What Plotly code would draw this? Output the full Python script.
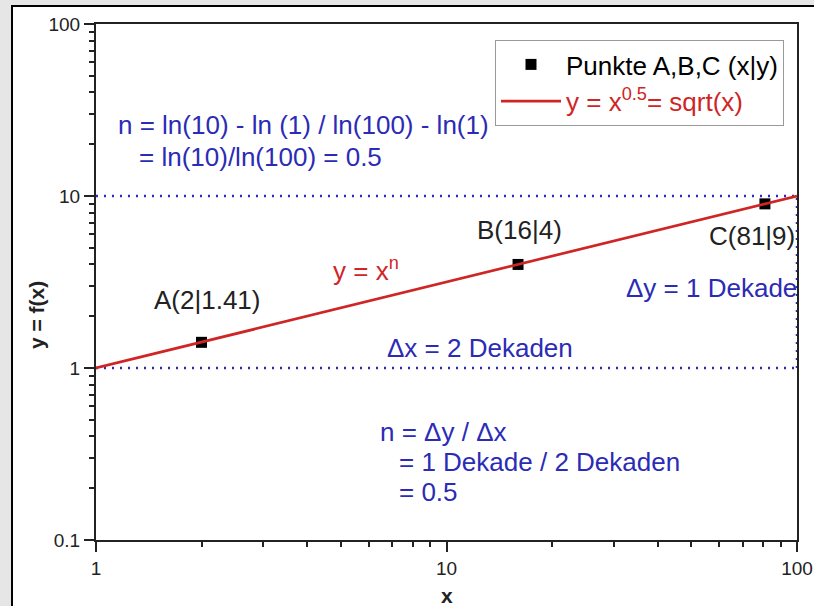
import plotly.graph_objects as go

# ---- data ----
point_x = [2, 16, 81]
point_y = [1.41, 4, 9]
point_labels = ["A(2|1.41)", "B(16|4)", "C(81|9)"]
line_x = [1, 100]
line_y = [1, 10]
ref_y = [1, 10]          # decade guide lines
x_tickvals = [1, 10, 100]
x_ticktext = ["1", "10", "100"]
y_tickvals = [0.1, 1, 10, 100]
y_ticktext = ["0.1", "1", "10", "100"]

BLUE = "#2b2bb5"
RED = "#d02525"
INK = "#222222"
FONT = "Liberation Sans, Arial, sans-serif"

L, T, R, B = 96, 24, 17, 66
W, H = 814 - L - R, 606 - T - B


def px(x):
    return (x - L) / W


def py(y):
    return 1 - (y - T) / H


fig = go.Figure()

# dotted decade guides
for yv in ref_y:
    fig.add_trace(go.Scatter(x=line_x, y=[yv, yv], mode="lines",
                             line=dict(color=BLUE, width=2.5, dash="2px,6px"),
                             showlegend=False, hoverinfo="skip"))
fig.add_trace(go.Scatter(x=[line_x[1], line_x[1]], y=ref_y, mode="lines",
                         line=dict(color=BLUE, width=2.5, dash="2px,6px"),
                         showlegend=False, hoverinfo="skip", cliponaxis=False))

fig.add_trace(go.Scatter(x=point_x, y=point_y, mode="markers",
                         marker=dict(symbol="square", size=11, color="black"),
                         name="Punkte A,B,C (x|y)"))
fig.add_trace(go.Scatter(x=line_x, y=line_y, mode="lines",
                         line=dict(color=RED, width=2.7),
                         name=f"<span style='color:{RED}'>y = x<sup>0.5</sup>= sqrt(x)</span>"))

# outer frame
fig.add_shape(type="rect", xref="paper", yref="paper",
              x0=px(12), y0=py(6), x1=px(900), y1=py(700),
              line=dict(color="black", width=2), fillcolor="white", layer="below")

ann = []


def add(text, x, y, color, xanchor="left", size=26):
    ann.append(dict(text=text, x=px(x), y=py(y), xref="paper", yref="paper",
                    xanchor=xanchor, yanchor="middle", showarrow=False,
                    font=dict(family=FONT, size=size, color=color)))


add("n = ln(10) - ln (1) / ln(100) - ln(1)", 116, 125, BLUE)
add("= ln(10)/ln(100) = 0.5", 137, 157, BLUE)
add(point_labels[0], 152, 300, INK)
add(point_labels[1], 475, 230, INK)
add(point_labels[2], 707, 236, INK)
add("y = x<sup>n</sup>", 331, 269, RED)
add("\u0394y = 1 Dekade", 624, 288, BLUE)
add("\u0394x = 2 Dekaden", 385, 348, BLUE)
add("n = \u0394y / \u0394x", 378, 432, BLUE)
add("= 1 Dekade / 2 Dekaden", 397, 462, BLUE)
add("= 0.5", 397, 492, BLUE)

# axis titles
ann.append(dict(text="<b>x</b>", x=px(447), y=py(595), xref="paper", yref="paper",
                xanchor="center", yanchor="middle", showarrow=False,
                font=dict(family=FONT, size=21, color=INK)))
ann.append(dict(text="<b>y = f(x)</b>", x=px(36), y=py(315), xref="paper", yref="paper",
                xanchor="center", yanchor="middle", showarrow=False, textangle=-90,
                font=dict(family=FONT, size=21, color=INK)))

minor_x = [m * d for d in (1, 10) for m in range(2, 10)]
minor_y = [m * d for d in (0.1, 1, 10) for m in range(2, 10)]

axis_common = dict(type="log", ticks="outside", ticklen=10, tickwidth=2, tickcolor=INK,
                   showline=True, linewidth=2, linecolor=INK, mirror=True,
                   showgrid=False, zeroline=False, automargin=False,
                   tickfont=dict(family=FONT, size=19, color=INK))

fig.update_layout(
    width=814, height=606,
    margin=dict(l=L, r=R, t=T, b=B, autoexpand=False),
    paper_bgcolor="#e6e6e6", plot_bgcolor="white",
    xaxis=dict(range=[0, 2], tickmode="array", tickvals=x_tickvals, ticktext=x_ticktext,
               minor=dict(ticks="outside", ticklen=5, tickwidth=2, tickcolor=INK,
                          tickmode="array", tickvals=minor_x, showgrid=False),
               **axis_common),
    yaxis=dict(range=[-1, 2], tickmode="array", tickvals=y_tickvals, ticktext=y_ticktext,
               minor=dict(ticks="outside", ticklen=5, tickwidth=2, tickcolor=INK,
                          tickmode="array", tickvals=minor_y, showgrid=False),
               **axis_common),
    legend=dict(x=px(784), y=py(40), xanchor="right", yanchor="top",
                bgcolor="white", bordercolor="#999999", borderwidth=1,
                font=dict(family=FONT, size=26, color="black"),
                itemwidth=60, tracegroupgap=0),
    annotations=ann,
    showlegend=True,
)

fig.write_html("out.html")
